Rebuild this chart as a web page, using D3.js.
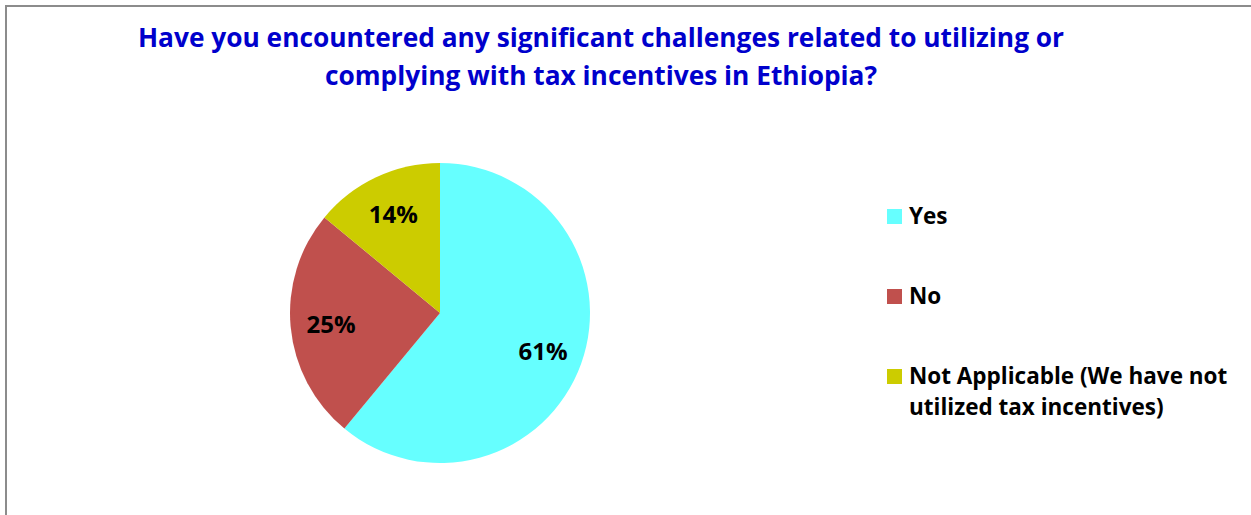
<!DOCTYPE html>
<html>
<head>
<meta charset="utf-8">
<script src="https://cdn.jsdelivr.net/npm/d3@7"></script>
<style>
  html, body { margin: 0; padding: 0; background: #fff; }
  svg { display: block; }
  text { font-variant-ligatures: none; }
</style>
</head>
<body>
<svg id="chart" width="1251" height="515"></svg>
<script>
// Survey answers and their shares (percent)
const categories = ["Yes", "No", "Not Applicable (We have not utilized tax incentives)"];
const shares = [61, 25, 14];
const colors = ["#66FFFF", "#C0504D", "#CCCC00"];
const titleLines = [
  "Have you encountered any significant challenges related to utilizing or",
  "complying with tax incentives in Ethiopia?"
];
const legendLines = [["Yes"], ["No"], ["Not Applicable (We have not", "utilized tax incentives)"]];

const W = 1251, H = 515;
const svg = d3.select("#chart");
const font = "'Open Sans', sans-serif";

// Chart frame
svg.append("rect")
  .attr("x", 6).attr("y", 6)
  .attr("width", W + 20).attr("height", H + 20)
  .attr("fill", "#fff")
  .attr("stroke", "#8c8c8c").attr("stroke-width", 2);

// Title
svg.append("text")
  .attr("text-anchor", "middle")
  .attr("font-family", font).attr("font-weight", "bold")
  .attr("font-size", 26.3).attr("fill", "#0000CC")
  .selectAll("tspan").data(titleLines).join("tspan")
  .attr("x", 601)
  .attr("y", (d, i) => 47 + i * 38)
  .text(d => d);

// Pie
const cx = 440, cy = 313, r = 150;
const pie = d3.pie().sort(null).value(d => d)(shares);
const arc = d3.arc().innerRadius(0).outerRadius(r);
const labelArc = d3.arc().innerRadius(r * 0.73).outerRadius(r * 0.73);

const g = svg.append("g").attr("transform", `translate(${cx},${cy})`);
g.selectAll("path").data(pie).join("path")
  .attr("d", arc)
  .attr("fill", (d, i) => colors[i]);

g.selectAll("text").data(pie).join("text")
  .attr("transform", d => `translate(${labelArc.centroid(d)})`)
  .attr("text-anchor", "middle")
  .attr("dominant-baseline", "central")
  .attr("font-family", font).attr("font-weight", "bold")
  .attr("font-size", 24).attr("fill", "#000")
  .text(d => d.value + "%");

// Legend
const legend = svg.append("g").attr("transform", "translate(887,209)");
const items = legend.selectAll("g").data(categories).join("g")
  .attr("transform", (d, i) => `translate(0,${i * 80})`);
items.append("rect")
  .attr("width", 15).attr("height", 15)
  .attr("fill", (d, i) => colors[i]);
items.append("text")
  .attr("font-family", font).attr("font-weight", "bold")
  .attr("font-size", 22.5).attr("fill", "#000")
  .selectAll("tspan").data((d, i) => legendLines[i]).join("tspan")
  .attr("x", 22)
  .attr("y", (d, j) => 15 + j * 31)
  .text(d => d);
</script>
</body>
</html>
